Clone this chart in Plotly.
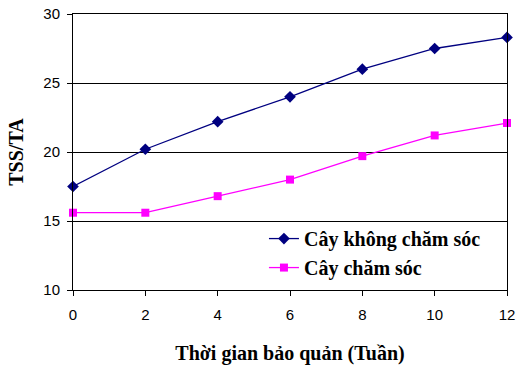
import plotly.graph_objects as go

# Storage time (weeks) and TSS/TA ratio for each treatment
weeks = [0, 2, 4, 6, 8, 10, 12]
khong_cham_soc = [17.5, 20.2, 22.2, 24.0, 26.0, 27.5, 28.3]
cham_soc = [15.6, 15.6, 16.8, 18.0, 19.7, 21.2, 22.1]
series_names = ["Cây không chăm sóc", "Cây chăm sóc"]
y_ticks = [10, 15, 20, 25, 30]
x_ticks = [0, 2, 4, 6, 8, 10, 12]

fig = go.Figure()
fig.add_trace(go.Scatter(
    x=weeks, y=khong_cham_soc, name=series_names[0], mode="lines+markers",
    line=dict(color="#000080", width=1.3),
    marker=dict(symbol="diamond", size=9, color="#000080"),
    cliponaxis=False,
))
fig.add_trace(go.Scatter(
    x=weeks, y=cham_soc, name=series_names[1], mode="lines+markers",
    line=dict(color="#FF00FF", width=1.3),
    marker=dict(symbol="square", size=8, color="#FF00FF"),
    cliponaxis=False,
))

tick_font = dict(family="Liberation Sans, Arial", size=15, color="black")
title_font = dict(family="Liberation Serif, Times New Roman", size=20, color="black")

fig.update_layout(
    width=519, height=373,
    margin=dict(l=73, r=12, t=14, b=83),
    paper_bgcolor="white", plot_bgcolor="white",
    showlegend=True,
    legend=dict(
        x=0.44, y=0.257, xanchor="left", yanchor="top",
        bgcolor="rgba(0,0,0,0)", borderwidth=0,
        font=dict(family="Liberation Serif, Times New Roman", size=20, color="black", weight="bold"),
        tracegroupgap=0,
    ),
    xaxis=dict(
        range=[0, 12], tickvals=x_ticks, showgrid=False, zeroline=False,
        showline=True, linecolor="black", linewidth=1, mirror=True,
        ticks="outside", ticklen=5, tickcolor="black", tickfont=tick_font,
        ticklabelstandoff=6, automargin=False,
        title=dict(text="<b>Thời gian bảo quản (Tuần)</b>", font=title_font, standoff=23),
    ),
    yaxis=dict(
        range=[10, 30], tickvals=y_ticks, showgrid=True, gridcolor="black", gridwidth=1,
        zeroline=False, showline=True, linecolor="black", linewidth=1, mirror=True,
        ticks="outside", ticklen=5, tickcolor="black", tickfont=tick_font,
        ticklabelstandoff=4, automargin=False,
        title=dict(text="<b>TSS/TA</b>", font=title_font, standoff=14),
    ),
)

fig.write_html("out.html")
